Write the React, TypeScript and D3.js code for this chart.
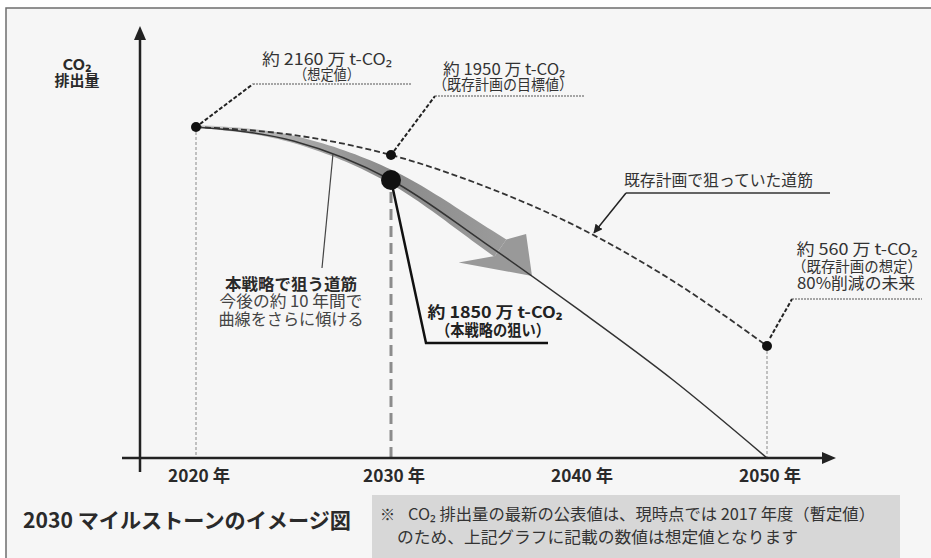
import React, { useRef, useEffect } from "react";
import * as d3 from "d3";

// values in 万 t-CO2
const years = [2020, 2025, 2030, 2035, 2040, 2045, 2050];
const existingPlan = [2160, 2100, 1950, 1800, 1480, 1065, 560];
const strategy = [2160, 2055, 1850, 1360, 840, 390, 0];
const tickYears = [2020, 2030, 2040, 2050];
const tickLabels = ["2020 年", "2030 年", "2040 年", "2050 年"];

const FONT = '"Noto Sans CJK JP", "Noto Sans", sans-serif';
const W = 931;
const H = 558;

const addText = (g, x, y, str, opts: any = {}) => {
  const t = g
    .append("text")
    .attr("x", x)
    .attr("y", y)
    .attr("text-anchor", opts.anchor || "middle")
    .attr("font-family", FONT)
    .attr("font-size", opts.size || 15)
    .attr("font-weight", opts.weight || 400)
    .attr("fill", opts.fill || "#333")
    .text(str);
  if (opts.length) t.attr("textLength", opts.length).attr("lengthAdjust", "spacingAndGlyphs");
  return t;
};

// find a point on a path at a given x
const pointAtX = (node, tx) => {
  let lo = 0;
  let hi = node.getTotalLength();
  for (let i = 0; i < 40; i++) {
    const mid = (lo + hi) / 2;
    if (node.getPointAtLength(mid).x < tx) lo = mid;
    else hi = mid;
  }
  const p = node.getPointAtLength(lo);
  return { x: p.x, y: p.y, len: lo };
};

const Milestone = () => {
  const svgRef = useRef(null);

  useEffect(() => {
    const svg = d3.select(svgRef.current);
    svg.selectAll("*").remove();

    const x = d3.scaleLinear().domain([2020, 2030, 2050]).range([196, 391, 767]);
    const y = d3
      .scaleLinear()
      .domain([0, 560, 1850, 1950, 2160])
      .range([458, 346, 180, 155, 127]);

    const defs = svg.append("defs");
    const grad = defs
      .append("linearGradient")
      .attr("id", "bandGrad")
      .attr("gradientUnits", "userSpaceOnUse")
      .attr("x1", x(2020))
      .attr("x2", x(2038))
      .attr("y1", 0)
      .attr("y2", 0);
    grad.append("stop").attr("offset", 0).attr("stop-color", "#cfcfcf");
    grad.append("stop").attr("offset", 0.55).attr("stop-color", "#8a8a8a");
    grad.append("stop").attr("offset", 1).attr("stop-color", "#a0a0a0");

    defs
      .append("marker")
      .attr("id", "tipArrow")
      .attr("viewBox", "0 0 10 10")
      .attr("refX", 9)
      .attr("refY", 5)
      .attr("markerWidth", 6)
      .attr("markerHeight", 6)
      .attr("orient", "auto")
      .append("path")
      .attr("d", "M0,0 L10,5 L0,10 z")
      .attr("fill", "#222");

    // background + frame
    svg.append("rect").attr("width", W).attr("height", H).attr("fill", "#fff");
    svg
      .append("rect")
      .attr("x", 6)
      .attr("y", 8)
      .attr("width", 1000)
      .attr("height", 600)
      .attr("fill", "#f6f6f6")
      .attr("stroke", "#6e6e6e")
      .attr("stroke-width", 1.5);

    const g = svg.append("g");

    // guide lines
    g.append("line")
      .attr("x1", x(2020)).attr("x2", x(2020))
      .attr("y1", y(2160)).attr("y2", y(0))
      .attr("stroke", "#8a8a8a").attr("stroke-width", 1).attr("stroke-dasharray", "3 2");
    g.append("line")
      .attr("x1", x(2050)).attr("x2", x(2050))
      .attr("y1", y(560)).attr("y2", y(0))
      .attr("stroke", "#8a8a8a").attr("stroke-width", 1).attr("stroke-dasharray", "3 2");
    g.append("line")
      .attr("x1", x(2030)).attr("x2", x(2030))
      .attr("y1", y(1850) + 12).attr("y2", y(0))
      .attr("stroke", "#8c8c8c").attr("stroke-width", 3).attr("stroke-dasharray", "11 6");

    const line = d3
      .line<number>()
      .x((d, i) => x(years[i]))
      .y(d => y(d))
      .curve(d3.curveMonotoneX);

    // strategy path (also used to build the wide arrow)
    const bandLayer = g.append("g");
    const stratPath = g
      .append("path")
      .attr("d", line(strategy))
      .attr("fill", "none")
      .attr("stroke", "#333")
      .attr("stroke-width", 1.5);
    const sNode = stratPath.node();

    // wide gray arrow along the strategy curve
    const tip = pointAtX(sNode, x(2037.5));
    const baseLen = tip.len - 42;
    const pts = d3.range(0, 61).map(i => {
      const l = (i / 60) * baseLen;
      const p = sNode.getPointAtLength(l);
      const a = sNode.getPointAtLength(Math.max(0, l - 0.5));
      const b = sNode.getPointAtLength(l + 0.5);
      const dx = b.x - a.x;
      const dy = b.y - a.y;
      const m = Math.hypot(dx, dy) || 1;
      const n = [dy / m, -dx / m];
      const w = 3 + 18 * Math.pow(i / 60, 1.2);
      return {
        up: [p.x + n[0] * w * 0.72, p.y + n[1] * w * 0.72],
        lo: [p.x - n[0] * w * 0.28, p.y - n[1] * w * 0.28],
      };
    });
    const bandPoly = pts.map(p => p.up).concat(pts.map(p => p.lo).reverse());
    bandLayer
      .append("path")
      .attr("d", "M" + bandPoly.map(p => p.join(",")).join("L") + "Z")
      .attr("fill", "url(#bandGrad)");

    const c = sNode.getPointAtLength(baseLen);
    const c2 = sNode.getPointAtLength(baseLen + 1);
    const um = Math.hypot(c2.x - c.x, c2.y - c.y);
    const u = [(c2.x - c.x) / um, (c2.y - c.y) / um];
    const nrm = [u[1], -u[0]];
    const wing1 = [c.x + 31 * nrm[0] + 13 * u[0], c.y + 31 * nrm[1] + 13 * u[1]];
    const wing2 = [c.x - 31 * nrm[0] - 26 * u[0], c.y - 31 * nrm[1] - 26 * u[1]];
    bandLayer
      .append("path")
      .attr("d", `M${wing1.join(",")}L${tip.x},${tip.y}L${wing2.join(",")}L${c.x - 5 * nrm[0]},${c.y - 5 * nrm[1]}L${c.x + 15 * nrm[0]},${c.y + 15 * nrm[1]}Z`)
      .attr("fill", "#999");

    // existing plan (dashed)
    const exPath = g
      .append("path")
      .attr("d", line(existingPlan))
      .attr("fill", "none")
      .attr("stroke", "#333")
      .attr("stroke-width", 1.8)
      .attr("stroke-dasharray", "6 3");
    const eNode = exPath.node();

    // axes
    g.append("line")
      .attr("x1", 140).attr("x2", 140).attr("y1", 472).attr("y2", 36)
      .attr("stroke", "#222").attr("stroke-width", 2.5);
    g.append("path").attr("d", "M140,26 L134,40 L146,40 Z").attr("fill", "#222");
    g.append("line")
      .attr("x1", 122).attr("x2", 826).attr("y1", y(0)).attr("y2", y(0))
      .attr("stroke", "#222").attr("stroke-width", 2.5);
    g.append("path")
      .attr("d", `M836,${y(0)} L822,${y(0) - 6} L822,${y(0) + 6} Z`)
      .attr("fill", "#222");

    tickYears.forEach((yr, i) => {
      addText(g, x(yr) + 3, 482, tickLabels[i], { size: 17, weight: 700, fill: "#2a2a2a", length: 62 });
    });

    addText(g, 77, 70, "CO₂", { size: 15, weight: 700, fill: "#2a2a2a", length: 29 });
    addText(g, 77, 86, "排出量", { size: 15, weight: 700, fill: "#2a2a2a", length: 45 });

    // callout leaders
    const callout = (px, py, sx, sy, kx, ky, ex) => {
      g.append("path")
        .attr("d", `M${px + sx},${py + sy} L${px + kx},${py + ky}`)
        .attr("stroke", "#222").attr("stroke-width", 2).attr("stroke-dasharray", "4 2").attr("fill", "none");
      g.append("line")
        .attr("x1", px + kx).attr("x2", ex).attr("y1", py + ky).attr("y2", py + ky)
        .attr("stroke", "#555").attr("stroke-width", 1.2).attr("stroke-dasharray", "2 1");
    };
    callout(x(2020), y(2160), 4, -3, 57, -43, 412);
    callout(x(2030), y(1950), 3, -4, 44, -59, 585);
    callout(x(2050), y(560), 3, -8, 25, -47, 922);

    addText(g, 327, 65, "約 2160 万 t-CO₂", { size: 16, length: 130 });
    addText(g, 327, 80, "（想定値）", { size: 15, length: 66 });
    addText(g, 504, 75, "約 1950 万 t-CO₂", { size: 16, length: 122 });
    addText(g, 503, 90, "（既存計画の目標値）", { size: 15, length: 140 });
    addText(g, 857, 255, "約 560 万 t-CO₂", { size: 16, length: 121 });
    addText(g, 857, 272, "（既存計画の想定）", { size: 15, length: 130 });
    addText(g, 856, 289, "80%削減の未来", { size: 16, length: 118 });

    // existing-plan path callout
    const ep = pointAtX(eNode, 593);
    g.append("line")
      .attr("x1", 830).attr("x2", 626).attr("y1", 193).attr("y2", 193)
      .attr("stroke", "#333").attr("stroke-width", 1.5);
    g.append("line")
      .attr("x1", 626).attr("y1", 193).attr("x2", ep.x + 1).attr("y2", ep.y - 2)
      .attr("stroke", "#222").attr("stroke-width", 1.5).attr("marker-end", "url(#tipArrow)");
    addText(g, 624, 186, "既存計画で狙っていた道筋", { size: 16, anchor: "start", length: 189 });

    // strategy path callout
    const sp = pointAtX(sNode, 333);
    g.append("line")
      .attr("x1", 322).attr("y1", 268).attr("x2", sp.x).attr("y2", sp.y)
      .attr("stroke", "#444").attr("stroke-width", 1.2);
    addText(g, 291, 290, "本戦略で狙う道筋", { size: 16, weight: 700, fill: "#2a2a2a", length: 132 });
    addText(g, 291, 307, "今後の約 10 年間で", { size: 16, fill: "#444", length: 143 });
    addText(g, 291, 325, "曲線をさらに傾ける", { size: 16, fill: "#444", length: 145 });

    // 1850 callout
    g.append("path")
      .attr("d", `M${x(2030)},${y(1850)} L${x(2030) + 35},343 L548,343`)
      .attr("fill", "none").attr("stroke", "#111").attr("stroke-width", 2.5);
    addText(g, 495, 318, "約 1850 万 t-CO₂", { size: 16, weight: 700, fill: "#222", length: 135 });
    addText(g, 493, 336, "（本戦略の狙い）", { size: 16, weight: 700, fill: "#222", length: 114 });

    // points
    const dots = [
      { yr: 2020, v: 2160, r: 5 },
      { yr: 2030, v: 1950, r: 5 },
      { yr: 2050, v: 560, r: 5 },
      { yr: 2030, v: 1850, r: 10 },
    ];
    g.selectAll("circle.pt")
      .data(dots)
      .join("circle")
      .attr("class", "pt")
      .attr("cx", d => x(d.yr))
      .attr("cy", d => y(d.v))
      .attr("r", d => d.r)
      .attr("fill", "#111");

    // title + note
    addText(g, 23, 528, "2030 マイルストーンのイメージ図", { size: 21, weight: 700, anchor: "start", fill: "#2a2a2a", length: 328 });
    g.append("rect").attr("x", 372).attr("y", 495).attr("width", 528).attr("height", 63).attr("fill", "#d7d7d7");
    addText(g, 380, 520, "※", { size: 15, anchor: "start" });
    addText(g, 408, 520, "CO₂ 排出量の最新の公表値は、現時点では 2017 年度（暫定値）", { size: 16, anchor: "start", length: 467 });
    addText(g, 397, 543, "のため、上記グラフに記載の数値は想定値となります", { size: 16, anchor: "start", length: 401 });
  }, []);

  return (
    <svg
      ref={svgRef}
      width={W}
      height={H}
      style={{ position: "absolute", left: 0, top: 0, display: "block" }}
    />
  );
};

export default function App() {
  return <Milestone />;
}
